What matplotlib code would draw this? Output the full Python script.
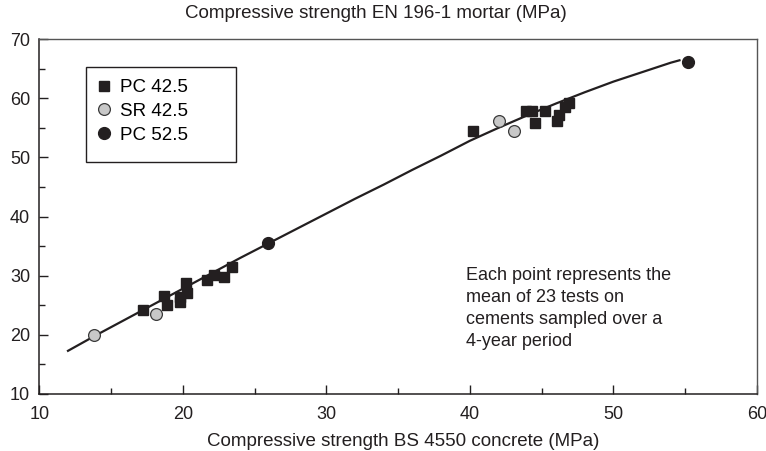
import matplotlib
matplotlib.use("Agg")
import matplotlib.pyplot as plt
from matplotlib.patches import Rectangle
from matplotlib.ticker import MultipleLocator

plt.rcParams['font.family'] = ['Liberation Sans', 'DejaVu Sans']

# PC 42.5 (squares)
pc425_x = [17.2, 18.7, 18.9, 19.8, 19.8, 20.2, 20.3, 21.7, 22.2, 22.9, 23.4,
           40.2, 43.9, 44.3, 44.5, 45.2, 46.1, 46.2, 46.6, 46.9]
pc425_y = [24.2, 26.5, 25.0, 26.4, 25.6, 28.7, 27.0, 29.2, 30.1, 29.8, 31.4,
           54.4, 57.8, 57.8, 55.8, 57.9, 56.1, 57.1, 58.5, 59.1]

# SR 42.5 (grey circles)
sr425_x = [13.8, 18.1, 42.0, 43.1]
sr425_y = [20.0, 23.5, 56.1, 54.4]

# PC 52.5 (black circles)
pc525_x = [25.9, 55.2]
pc525_y = [35.5, 66.1]

# fitted curve
fit_x = [12, 14, 16, 18, 20, 22, 24, 26, 28, 30, 32, 34, 36, 38, 40, 42, 44, 46, 48, 50, 52, 54, 54.6]
fit_y = [17.3, 20.0, 22.6, 25.2, 27.8, 30.4, 33.0, 35.5, 38.0, 40.5, 43.0, 45.4, 47.9, 50.3,
         52.8, 55.0, 57.1, 59.1, 61.0, 62.8, 64.4, 66.0, 66.4]

note = "Each point represents the\nmean of 23 tests on\ncements sampled over a\n4-year period"

W, H = 766, 451
fig = plt.figure(figsize=(W / 100, H / 100), dpi=100)
ax_l, ax_r, ax_t, ax_b = 39.3, 757, 39, 394
ax = fig.add_axes([ax_l / W, 1 - ax_b / H, (ax_r - ax_l) / W, (ax_b - ax_t) / H])
aw, ah = ax_r - ax_l, ax_b - ax_t

ink = '#231f20'
fs = 13.5
ax.plot(fit_x, fit_y, color=ink, lw=1.6, zorder=2)
ax.plot(pc425_x, pc425_y, 's', ms=7, color=ink, mec=ink, zorder=3, label='PC 42.5')
ax.plot(sr425_x, sr425_y, 'o', ms=8.5, mfc='#c8c8c8', mec='#3a3a3a', mew=0.9, zorder=3, label='SR 42.5')
ax.plot(pc525_x, pc525_y, 'o', ms=8.5, color=ink, mec=ink, zorder=3, label='PC 52.5')

ax.set_xlim(10, 60)
ax.set_ylim(10, 70)
ax.xaxis.set_major_locator(MultipleLocator(10))
ax.xaxis.set_minor_locator(MultipleLocator(5))
ax.yaxis.set_major_locator(MultipleLocator(10))
ax.yaxis.set_minor_locator(MultipleLocator(5))
ax.tick_params(which='both', direction='in', width=1, colors=ink)
ax.tick_params(which='major', length=6.5)
ax.tick_params(which='minor', length=4)
ax.tick_params(axis='x', which='major', pad=8.3, labelsize=13)
ax.tick_params(axis='y', which='major', pad=6.6, labelsize=13)

for side in ['left', 'bottom']:
    ax.spines[side].set_color(ink)
    ax.spines[side].set_linewidth(1.1)
for side in ['top', 'right']:
    ax.spines[side].set_color('#555555')
    ax.spines[side].set_linewidth(1.0)

fig.text(403 / W, 1 - 446 / H, 'Compressive strength BS 4550 concrete (MPa)',
         ha='center', va='baseline', fontsize=fs, color=ink)
fig.text(376 / W, 1 - 18.5 / H, 'Compressive strength EN 196-1 mortar (MPa)',
         ha='center', va='baseline', fontsize=fs, color=ink)

# legend box drawn separately (wider than its entries)
ax.add_patch(Rectangle(((86 - ax_l) / aw, (ax_b - 161.7) / ah), 150 / aw, 94.4 / ah,
                       transform=ax.transAxes, fill=False, ec=ink, lw=1.0, zorder=4))
ax.legend(loc='upper left', bbox_to_anchor=((95 - ax_l) / aw, (ax_b - 79) / ah),
          borderaxespad=0, borderpad=0, frameon=False, fontsize=fs, numpoints=1,
          handlelength=1.0, handletextpad=0.36, labelspacing=0.36)

ax.text((465.5 - ax_l) / aw, (ax_b - 266.6) / ah, note, transform=ax.transAxes,
        ha='left', va='top', fontsize=13, color=ink, linespacing=1.39)

fig.savefig('out.png', dpi=100, facecolor='white')
